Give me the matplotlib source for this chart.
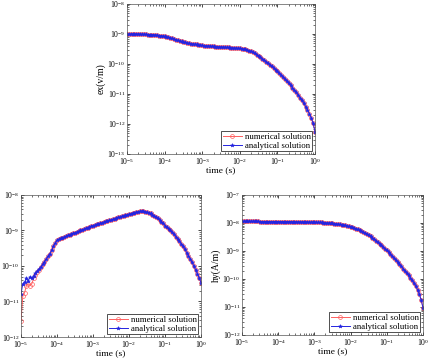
import matplotlib
matplotlib.use("Agg")
import matplotlib.pyplot as plt
import numpy as np
from matplotlib.ticker import LogLocator, NullFormatter

plt.rcParams['font.family'] = ['Liberation Serif', 'DejaVu Serif']
plt.rcParams['mathtext.fontset'] = 'stix'

# time samples (s), 20 per decade
time = [1.00e-5, 1.12e-5, 1.26e-5, 1.41e-5, 1.58e-5, 1.78e-5, 2.00e-5, 2.24e-5, 2.51e-5, 2.82e-5,
        3.16e-5, 3.55e-5, 3.98e-5, 4.47e-5, 5.01e-5, 5.62e-5, 6.31e-5, 7.08e-5, 7.94e-5, 8.91e-5,
        1.00e-4, 1.12e-4, 1.26e-4, 1.41e-4, 1.58e-4, 1.78e-4, 2.00e-4, 2.24e-4, 2.51e-4, 2.82e-4,
        3.16e-4, 3.55e-4, 3.98e-4, 4.47e-4, 5.01e-4, 5.62e-4, 6.31e-4, 7.08e-4, 7.94e-4, 8.91e-4,
        1.00e-3, 1.12e-3, 1.26e-3, 1.41e-3, 1.58e-3, 1.78e-3, 2.00e-3, 2.24e-3, 2.51e-3, 2.82e-3,
        3.16e-3, 3.55e-3, 3.98e-3, 4.47e-3, 5.01e-3, 5.62e-3, 6.31e-3, 7.08e-3, 7.94e-3, 8.91e-3,
        1.00e-2, 1.12e-2, 1.26e-2, 1.41e-2, 1.58e-2, 1.78e-2, 2.00e-2, 2.24e-2, 2.51e-2, 2.82e-2,
        3.16e-2, 3.55e-2, 3.98e-2, 4.47e-2, 5.01e-2, 5.62e-2, 6.31e-2, 7.08e-2, 7.94e-2, 8.91e-2,
        1.00e-1, 1.12e-1, 1.26e-1, 1.41e-1, 1.58e-1, 1.78e-1, 2.00e-1, 2.24e-1, 2.51e-1, 2.82e-1,
        3.16e-1, 3.55e-1, 3.98e-1, 4.47e-1, 5.01e-1, 5.62e-1, 6.31e-1, 7.08e-1, 7.94e-1, 8.91e-1,
        1.00e0]

# log10 of ex (V/m)
ex_num_log = [-9.00, -9.00, -9.00, -9.00, -9.00, -9.00, -9.00, -9.00, -9.01, -9.01,
              -9.01, -9.02, -9.02, -9.02, -9.03, -9.03, -9.04, -9.05, -9.06, -9.07,
              -9.08, -9.09, -9.11, -9.13, -9.15, -9.17, -9.19, -9.21, -9.23, -9.25,
              -9.27, -9.28, -9.30, -9.31, -9.32, -9.33, -9.34, -9.35, -9.36, -9.37,
              -9.38, -9.39, -9.39, -9.40, -9.40, -9.41, -9.41, -9.42, -9.42, -9.43,
              -9.43, -9.44, -9.44, -9.45, -9.45, -9.46, -9.46, -9.47, -9.47, -9.48,
              -9.48, -9.49, -9.50, -9.51, -9.53, -9.55, -9.58, -9.61, -9.65, -9.69,
              -9.73, -9.77, -9.82, -9.87, -9.92, -9.97, -10.02, -10.07, -10.13, -10.19,
              -10.25, -10.31, -10.37, -10.43, -10.50, -10.57, -10.64, -10.71, -10.79, -10.87,
              -10.95, -11.03, -11.12, -11.21, -11.31, -11.42, -11.53, -11.66, -11.80, -11.98,
              -12.25]
ex_ana_log = ex_num_log

# log10 of hz (A/m)
hz_num_log = [-11.55, -10.85, -10.75, -10.55, -10.50, -10.55, -10.50, -10.35, -10.25, -10.17,
              -10.10, -10.03, -9.95, -9.88, -9.80, -9.73, -9.65, -9.55, -9.45, -9.35,
              -9.27, -9.245, -9.22, -9.20, -9.18, -9.16, -9.14, -9.12, -9.10, -9.08,
              -9.06, -9.04, -9.02, -9.00, -8.98, -8.96, -8.94, -8.92, -8.90, -8.88,
              -8.86, -8.845, -8.83, -8.815, -8.80, -8.78, -8.76, -8.745, -8.73, -8.715,
              -8.70, -8.685, -8.67, -8.65, -8.63, -8.615, -8.60, -8.585, -8.57, -8.555,
              -8.54, -8.525, -8.51, -8.495, -8.48, -8.47, -8.46, -8.455, -8.46, -8.47,
              -8.48, -8.50, -8.52, -8.55, -8.58, -8.62, -8.66, -8.705, -8.75, -8.80,
              -8.86, -8.905, -8.95, -9.00, -9.05, -9.11, -9.17, -9.235, -9.30, -9.375,
              -9.45, -9.535, -9.62, -9.71, -9.80, -9.90, -10.00, -10.11, -10.22, -10.345,
              -10.47]
hz_ana_log = [-10.80, -10.50, -10.45, -10.35, -10.42, -10.30, -10.35, -10.28, -10.20, -10.14,
              -10.08, -10.02, -9.95, -9.88, -9.80, -9.73, -9.65, -9.55, -9.45, -9.35,
              -9.27, -9.245, -9.22, -9.20, -9.18, -9.16, -9.14, -9.12, -9.10, -9.08,
              -9.06, -9.04, -9.02, -9.00, -8.98, -8.96, -8.94, -8.92, -8.90, -8.88,
              -8.86, -8.845, -8.83, -8.815, -8.80, -8.78, -8.76, -8.745, -8.73, -8.715,
              -8.70, -8.685, -8.67, -8.65, -8.63, -8.615, -8.60, -8.585, -8.57, -8.555,
              -8.54, -8.525, -8.51, -8.495, -8.48, -8.47, -8.46, -8.455, -8.46, -8.47,
              -8.48, -8.50, -8.52, -8.55, -8.58, -8.62, -8.66, -8.705, -8.75, -8.80,
              -8.86, -8.905, -8.95, -9.00, -9.05, -9.11, -9.17, -9.235, -9.30, -9.375,
              -9.45, -9.535, -9.62, -9.71, -9.80, -9.90, -10.00, -10.11, -10.22, -10.345,
              -10.47]

# log10 of hy (A/m)
hy_num_log = [-7.94, -7.94, -7.94, -7.94, -7.94, -7.94, -7.94, -7.94, -7.94, -7.94,
              -7.95, -7.95, -7.95, -7.95, -7.95, -7.95, -7.95, -7.95, -7.95, -7.95,
              -7.95, -7.95, -7.95, -7.95, -7.95, -7.95, -7.95, -7.95, -7.96, -7.96,
              -7.96, -7.96, -7.96, -7.96, -7.96, -7.96, -7.96, -7.97, -7.97, -7.97,
              -7.97, -7.98, -7.98, -7.98, -7.98, -7.99, -7.99, -8.00, -8.00, -8.005,
              -8.01, -8.02, -8.03, -8.04, -8.05, -8.06, -8.07, -8.085, -8.10, -8.12,
              -8.14, -8.16, -8.18, -8.205, -8.23, -8.26, -8.29, -8.325, -8.36, -8.395,
              -8.43, -8.48, -8.53, -8.58, -8.63, -8.685, -8.74, -8.80, -8.86, -8.92,
              -8.98, -9.045, -9.11, -9.18, -9.25, -9.325, -9.40, -9.475, -9.55, -9.63,
              -9.71, -9.79, -9.87, -9.96, -10.05, -10.15, -10.26, -10.39, -10.55, -10.75,
              -11.03]
hy_ana_log = hy_num_log

panels = [
    dict(rect=[127/428, 1-154/361, 188/428, 150/361], ylab="ex(v/m)", ylim=(-13, -8),
         num=ex_num_log, ana=ex_ana_log),
    dict(rect=[21/428, 1-337/361, 180/428, 142/361], ylab="hz(A/m)", ylim=(-12, -8),
         num=hz_num_log, ana=hz_ana_log),
    dict(rect=[242/428, 1-335/361, 181/428, 140/361], ylab="hy(A/m)", ylim=(-12, -7),
         num=hy_num_log, ana=hy_ana_log),
]

fig = plt.figure(figsize=(4.28, 3.61), dpi=100)
t = np.array(time)
for p in panels:
    ax = fig.add_axes(p["rect"])
    ax.loglog(t, 10.0 ** np.array(p["num"]), '-o', color='#ff6060', lw=0.7,
              ms=2.8, mfc='none', mew=0.5, label='numerical solution')
    ax.loglog(t, 10.0 ** np.array(p["ana"]), '-*', color='#2424e0', lw=0.7,
              ms=2.8, mew=0.4, label='analytical solution')
    ax.set_xlim(1e-5, 1e0)
    ax.set_ylim(10.0 ** p["ylim"][0], 10.0 ** p["ylim"][1])
    ax.xaxis.set_major_locator(LogLocator(base=10, numticks=20))
    ax.yaxis.set_major_locator(LogLocator(base=10, numticks=20))
    ax.xaxis.set_minor_locator(LogLocator(base=10, subs=np.arange(2, 10), numticks=20))
    ax.yaxis.set_minor_locator(LogLocator(base=10, subs=np.arange(2, 10), numticks=20))
    ax.xaxis.set_minor_formatter(NullFormatter())
    ax.yaxis.set_minor_formatter(NullFormatter())
    ax.tick_params(which='both', direction='in', top=True, right=True, labelsize=5.5, pad=1.2)
    ax.tick_params(which='major', length=2.5, width=0.5)
    ax.tick_params(which='minor', length=1.2, width=0.4)
    for s in ax.spines.values():
        s.set_linewidth(0.5)
        s.set_color('#555555')
    ax.set_xlabel("time (s)", fontsize=6.8, labelpad=0)
    ax.set_ylabel(p["ylab"], fontsize=7, labelpad=1)
    leg = ax.legend(loc='lower right', fontsize=6.3, frameon=True, fancybox=False,
                    edgecolor='black', borderpad=0.2, labelspacing=0.1,
                    handlelength=2.2, handletextpad=0.3, borderaxespad=0.3)
    leg.get_frame().set_linewidth(0.6)

fig.savefig("out.png", dpi=100)
